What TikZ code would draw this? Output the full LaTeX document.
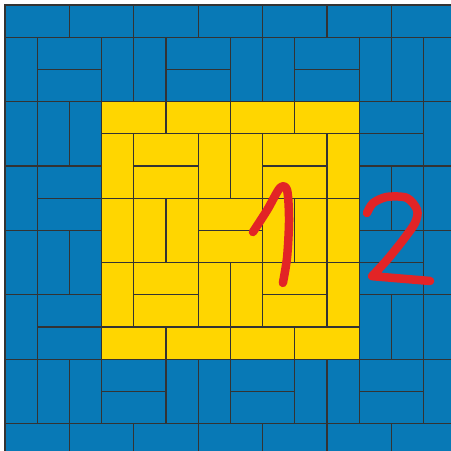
\documentclass[tikz,border=0pt]{standalone}
\usepackage{tikz}

\definecolor{tileblue}{RGB}{8,121,182}
\definecolor{tileyellow}{RGB}{255,214,0}
\definecolor{penred}{RGB}{226,36,38}

\tikzset{
    tile/.style={draw=black!80,line width=1pt},
    pen/.style={penred,line width=7.5pt,line cap=round,line join=round}
}
% one domino lying (h) or standing (v) at column #1, row #2
\newcommand{\hdom}[3]{\filldraw[tile,fill=#3] (#1,#2) rectangle ++(2,1);}
\newcommand{\vdom}[3]{\filldraw[tile,fill=#3] (#1,#2) rectangle ++(1,2);}
% 2x2 block, odd #4 gives two standing dominoes
\newcommand{\twoblock}[4]{\ifodd#4\relax \vdom{#1}{#2}{#3}\vdom{#1+1}{#2}{#3}\else \hdom{#1}{#2}{#3}\hdom{#1}{#2+1}{#3}\fi}

\begin{document}
\begin{tikzpicture}[x=1cm,y=-1cm]
        \pgfmathsetmacro{\m}{5/32.2}
        \useasboundingbox (-\m,-\m) rectangle (13.85,13.82);
        \clip (-\m,-\m) rectangle (13.85,13.82);
        % blue frame
        \foreach \c in {0,2,...,12} {\hdom{\c}{0}{tileblue} \hdom{\c}{13}{tileblue}}
        \foreach \r in {1,3,...,11} {\vdom{0}{\r}{tileblue} \vdom{13}{\r}{tileblue}}
        \foreach \i in {0,...,5} \foreach \j in {0,...,5} {
            \pgfmathtruncatemacro{\inner}{(\i>0)&&(\i<5)&&(\j>0)&&(\j<5)}
            \pgfmathtruncatemacro{\s}{\i+\j}
            \ifnum\inner=0 \twoblock{1+2*\i}{1+2*\j}{tileblue}{\s}\fi
        }
        % yellow square
        \foreach \c in {3,5,7,9} {\hdom{\c}{3}{tileyellow} \hdom{\c}{10}{tileyellow}}
        \foreach \r in {4,6,8} {\vdom{3}{\r}{tileyellow} \vdom{10}{\r}{tileyellow}}
        \foreach \i in {0,1,2} \foreach \j in {0,1,2} {
            \pgfmathtruncatemacro{\s}{\i+\j}
            \twoblock{4+2*\i}{4+2*\j}{tileyellow}{\s}
        }
        % hand written numbers
        \draw[pen] plot[smooth] coordinates {(7.70,7.05) (8.14,6.37) (8.54,5.68) (8.76,5.75) (8.82,6.68) (8.76,7.83) (8.63,8.63)};
        \draw[pen] plot[smooth] coordinates {(11.24,6.46) (11.43,6.15) (11.86,5.96) (12.48,5.99) (12.80,6.37) (12.73,6.77) (12.36,7.30) (11.86,7.92) (11.40,8.42)} -- (13.20,8.57);
    \end{tikzpicture}
\end{document}
